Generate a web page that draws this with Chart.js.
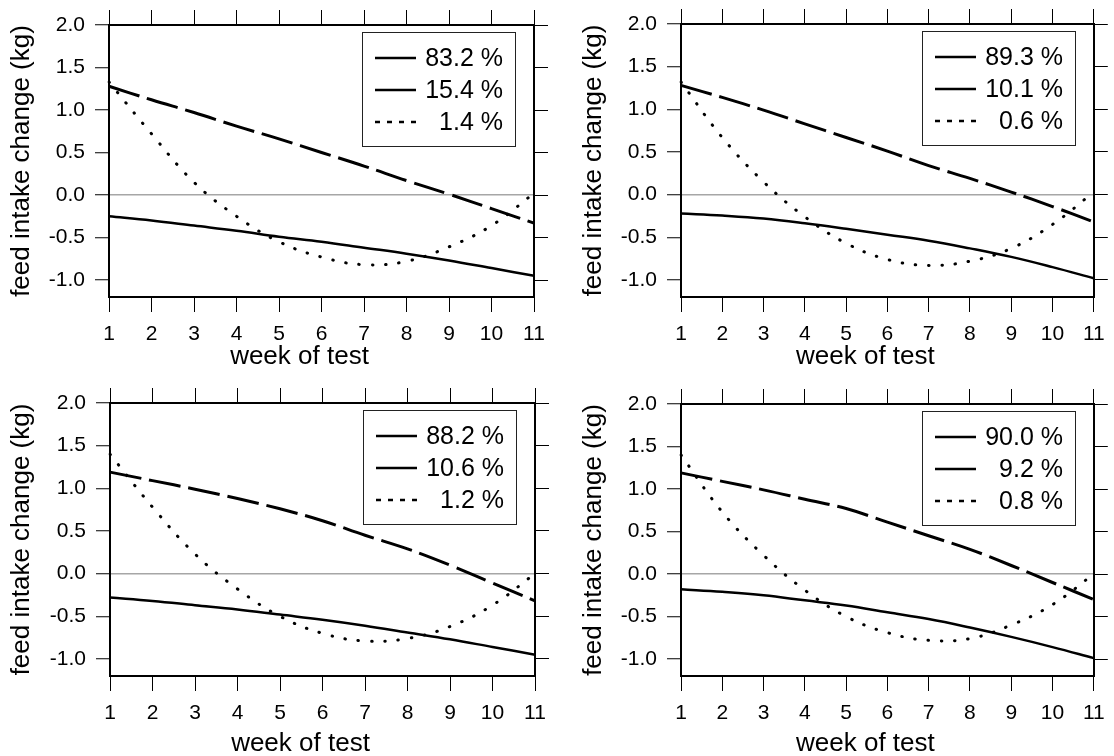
<!DOCTYPE html>
<html>
<head>
<meta charset="utf-8">
<script src="https://cdn.jsdelivr.net/npm/chart.js@4.4.0/dist/chart.umd.min.js"></script>
<style>
  body { margin: 0; background: #fff; }
  #wrap { position: relative; width: 1114px; height: 756px; }
  canvas { position: absolute; }
</style>
</head>
<body>
<div id="wrap">
  <canvas id="c1" width="557" height="378" style="left:0;top:0"></canvas>
  <canvas id="c2" width="557" height="378" style="left:557px;top:0"></canvas>
  <canvas id="c3" width="557" height="378" style="left:0;top:378px"></canvas>
  <canvas id="c4" width="557" height="378" style="left:557px;top:378px"></canvas>
</div>
<script>
const weeks = [1, 2, 3, 4, 5, 6, 7, 8, 9, 10, 11];
const yTicks = [-1.0, -0.5, 0.0, 0.5, 1.0, 1.5, 2.0];
const xTitle = 'week of test';
const yTitle = 'feed intake change (kg)';

// top left
const p1Solid  = [-0.25, -0.30, -0.36, -0.42, -0.49, -0.55, -0.62, -0.69, -0.77, -0.86, -0.95];
const p1Dashed = [1.28, 1.12, 0.97, 0.81, 0.66, 0.50, 0.34, 0.17, 0.01, -0.16, -0.33];
const p1Dotted = [1.33, 0.72, 0.15, -0.25, -0.55, -0.73, -0.82, -0.78, -0.61, -0.36, 0.02];
const legend1 = ['83.2 %', '15.4 %', '1.4 %'];

// top right
const p2Solid  = [-0.22, -0.245, -0.28, -0.335, -0.40, -0.47, -0.54, -0.63, -0.73, -0.85, -0.98];
const p2Dashed = [1.28, 1.14, 0.99, 0.83, 0.67, 0.51, 0.34, 0.19, 0.03, -0.14, -0.32];
const p2Dotted = [1.32, 0.67, 0.15, -0.26, -0.57, -0.76, -0.83, -0.78, -0.63, -0.35, 0.03];
const legend2 = ['89.3 %', '10.1 %', '0.6 %'];

// bottom left
const p3Solid  = [-0.28, -0.32, -0.37, -0.42, -0.48, -0.54, -0.61, -0.69, -0.77, -0.86, -0.95];
const p3Dashed = [1.19, 1.09, 0.99, 0.88, 0.76, 0.62, 0.45, 0.29, 0.10, -0.11, -0.32];
const p3Dotted = [1.40, 0.78, 0.23, -0.18, -0.50, -0.70, -0.79, -0.76, -0.62, -0.37, 0.00];
const legend3 = ['88.2 %', '10.6 %', '1.2 %'];

// bottom right
const p4Solid  = [-0.18, -0.21, -0.25, -0.31, -0.37, -0.45, -0.53, -0.63, -0.74, -0.86, -0.99];
const p4Dashed = [1.19, 1.09, 0.99, 0.88, 0.77, 0.61, 0.45, 0.29, 0.10, -0.10, -0.30];
const p4Dotted = [1.40, 0.73, 0.22, -0.19, -0.50, -0.69, -0.78, -0.76, -0.60, -0.36, 0.00];
const legend4 = ['90.0 %', '9.2 %', '0.8 %'];

const FONT = '"Liberation Sans", Arial, Helvetica, sans-serif';
Chart.defaults.font.family = FONT;
Chart.defaults.color = '#000';

// boxed legend inside the plot + x title (sits a bit left of centre in the original)
const boxLegend = {
  id: 'boxLegend',
  afterDraw(chart, args, opts) {
    const ctx = chart.ctx;
    const a = chart.chartArea;
    const w = 153, h = 114;
    const left = Math.round(a.right - 19 - w), top = Math.round(a.top + 7);
    ctx.save();
    ctx.fillStyle = '#fff';
    ctx.fillRect(left, top, w, h);
    ctx.strokeStyle = '#222';
    ctx.lineWidth = 1;
    ctx.strokeRect(left + 0.5, top + 0.5, w, h);
    ctx.font = '25px ' + FONT;
    ctx.textAlign = 'right';
    ctx.textBaseline = 'middle';
    chart.data.datasets.forEach((ds, i) => {
      const y = top + 26 + i * 32;
      ctx.beginPath();
      ctx.setLineDash(opts.dash[i]);
      ctx.lineWidth = 2.5;
      ctx.strokeStyle = ds.borderColor;
      ctx.moveTo(left + 13, y);
      ctx.lineTo(left + 54, y);
      ctx.stroke();
      ctx.setLineDash([]);
      ctx.fillStyle = '#000';
      ctx.fillText(ds.label, left + w - 12, y + 1);
    });
    ctx.font = '26px ' + FONT;
    ctx.textAlign = 'center';
    ctx.fillText(xTitle, (a.left + a.right) / 2 - 22, opts.titleY);
    ctx.restore();
  }
};

function setTicks(scale) {
  scale.ticks = yTicks.map(v => ({ value: v }));
}

function makeChart(id, solid, dashed, dotted, labels, lay) {
  new Chart(document.getElementById(id), {
    type: 'line',
    data: {
      labels: weeks,
      datasets: [
        { label: labels[0], data: solid, borderColor: '#000', borderWidth: 2.5,
          pointRadius: 0, tension: 0.4 },
        { label: labels[1], data: dashed, borderColor: '#000', borderWidth: 3,
          borderDash: [32, 8], pointRadius: 0, tension: 0.4 },
        { label: labels[2], data: dotted, borderColor: '#000', borderWidth: 3,
          borderDash: [0.5, 12.8], borderCapStyle: 'round', pointRadius: 0,
          tension: 0.4 }
      ]
    },
    options: {
      responsive: false,
      animation: false,
      devicePixelRatio: 1,
      layout: { padding: 0 },
      plugins: {
        legend: { display: false },
        tooltip: { enabled: false },
        boxLegend: { dash: [[], [], [5, 7]], titleY: lay.titleY }
      },
      scales: {
        x: {
          type: 'category',
          position: 'bottom',
          grid: { drawOnChartArea: false, tickLength: 15, tickColor: '#000', tickWidth: 1 },
          border: { color: '#000', width: 2 },
          ticks: { font: { size: 21 }, padding: 9.3, maxRotation: 0, autoSkip: false },
          afterFit: s => { s.height = lay.xh; }
        },
        x2: {
          type: 'category',
          position: 'top',
          grid: { drawOnChartArea: false, tickLength: 15, tickColor: '#000', tickWidth: 1 },
          border: { color: '#000', width: 2 },
          ticks: { display: false },
          afterFit: s => { s.height = lay.x2h; }
        },
        y: {
          min: -1.2, max: 2,
          afterBuildTicks: setTicks,
          ticks: { font: { size: 21 }, padding: 10, callback: v => v.toFixed(1) },
          grid: {
            color: c => (c.tick && c.tick.value === 0) ? '#a6a6a6' : 'rgba(0,0,0,0)',
            lineWidth: 1.5, tickColor: '#000', tickWidth: 1, tickLength: 14
          },
          border: { color: '#000', width: 2 },
          title: { display: true, text: yTitle, font: { size: 26, lineHeight: 1 },
                   padding: { top: lay.yTitlePad, bottom: 0 } },
          afterFit: s => { s.width = lay.yw; }
        },
        y2: {
          position: 'right',
          min: -1.2, max: 2,
          afterBuildTicks: setTicks,
          ticks: { display: false },
          grid: { drawOnChartArea: false, tickLength: 14, tickColor: '#000', tickWidth: 1 },
          border: { color: '#000', width: 2 },
          afterFit: s => { s.width = lay.y2w; }
        }
      }
    },
    plugins: [boxLegend]
  });
}

makeChart('c1', p1Solid, p1Dashed, p1Dotted, legend1,
  { yw: 109, y2w: 23, xh: 81, x2h: 25, yTitlePad: 9, titleY: 357 });
makeChart('c2', p2Solid, p2Dashed, p2Dotted, legend2,
  { yw: 124, y2w: 13, xh: 81, x2h: 24, yTitlePad: 24, titleY: 357 });
makeChart('c3', p3Solid, p3Dashed, p3Dotted, legend3,
  { yw: 110, y2w: 22, xh: 80, x2h: 25, yTitlePad: 9, titleY: 366 });
makeChart('c4', p4Solid, p4Dashed, p4Dotted, legend4,
  { yw: 124, y2w: 13, xh: 80, x2h: 26, yTitlePad: 24, titleY: 366 });
</script>
</body>
</html>
